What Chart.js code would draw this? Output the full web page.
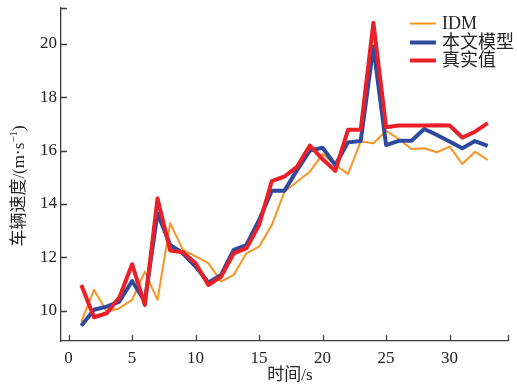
<!DOCTYPE html>
<html>
<head>
<meta charset="utf-8">
<script src="https://cdn.jsdelivr.net/npm/chart.js@4.4.1/dist/chart.umd.min.js"></script>
<style>
  html, body { margin: 0; padding: 0; background: #fff; }
  #wrap { width: 517px; height: 392px; }
</style>
</head>
<body>
<div id="wrap"><canvas id="myChart" width="517" height="392"></canvas></div>
<script>
// time (s)
const times = [1, 2, 3, 4, 5, 6, 7, 8, 9, 10, 11, 12, 13, 14, 15, 16, 17,
  18, 19, 20, 21, 22, 23, 24, 25, 26, 27, 28, 29, 30, 31, 32, 33];
// IDM
const idm = [9.59, 10.78, 9.96, 10.09, 10.40, 11.46, 10.40, 13.28, 12.28, 12.03, 11.78,
  11.09, 11.34, 12.15, 12.40, 13.21, 14.46, 14.84, 15.21, 15.88, 15.46, 15.13,
  16.34, 16.28, 16.74, 16.43, 16.06, 16.09, 15.94, 16.15, 15.50, 15.96, 15.65];
// 本文模型
const model = [9.43, 10.03, 10.15, 10.34, 11.11, 10.34, 13.65, 12.46, 12.15, 11.65, 11.05,
  11.34, 12.28, 12.46, 13.40, 14.50, 14.50, 15.28, 16.00, 16.11, 15.46, 16.31,
  16.36, 19.90, 16.21, 16.37, 16.37, 16.81, 16.59, 16.34, 16.09, 16.36, 16.18];
// 真实值
const real = [10.96, 9.75, 9.90, 10.50, 11.74, 10.21, 14.21, 12.25, 12.19, 11.78, 10.96,
  11.27, 12.15, 12.34, 13.21, 14.86, 15.03, 15.40, 16.19, 15.68, 15.24, 16.78,
  16.78, 20.80, 16.88, 16.94, 16.94, 16.94, 16.95, 16.94, 16.49, 16.71, 17.03];

const xTicks = [0, 5, 10, 15, 20, 25, 30];
const yTicks = [10, 12, 14, 16, 18, 20];
const seriesNames = ['IDM', '本文模型', '真实值'];

const serif = "'Liberation Serif', 'Noto Sans CJK SC', serif";
const axisColor = '#3c3c3c';

function pts(arr) {
  return times.map(function (t, i) { return { x: t, y: arr[i] }; });
}

// inward ticks, legend and axis titles
const decor = {
  id: 'decor',
  afterDraw(chart) {
    const ctx = chart.ctx;
    const xs = chart.scales.x, ys = chart.scales.y;
    const a = chart.chartArea;
    ctx.save();
    ctx.strokeStyle = axisColor;
    ctx.lineWidth = 1.3;
    ctx.beginPath();
    xTicks.concat([xs.max]).forEach(function (v) {
      const px = Math.round(xs.getPixelForValue(v)) + 0.5;
      ctx.moveTo(px, a.bottom);
      ctx.lineTo(px, a.bottom - 6);
    });
    yTicks.concat([ys.max]).forEach(function (v) {
      const py = Math.round(ys.getPixelForValue(v)) + 0.5;
      ctx.moveTo(a.left, py);
      ctx.lineTo(a.left + 6, py);
    });
    ctx.stroke();

    // legend
    const ds = chart.data.datasets;
    const rows = [23.5, 42.5, 60.5];
    ctx.font = '18px ' + serif;
    ctx.textBaseline = 'middle';
    ctx.fillStyle = '#222';
    seriesNames.forEach(function (name, i) {
      ctx.strokeStyle = ds[i].borderColor;
      ctx.lineWidth = ds[i].borderWidth;
      ctx.beginPath();
      ctx.moveTo(410, rows[i]);
      ctx.lineTo(436, rows[i]);
      ctx.stroke();
      ctx.fillText(name, 442, rows[i] + 1);
    });

    // x title
    ctx.font = '17px ' + serif;
    ctx.textAlign = 'center';
    ctx.textBaseline = 'middle';
    ctx.fillText('时间/s', 290, 376);

    // y title, rotated
    ctx.translate(20, 186);
    ctx.rotate(-Math.PI / 2);
    const p1 = '车辆速度/(m·s';
    const sup = '−1';
    const p2 = ')';
    ctx.font = '17px ' + serif;
    const w1 = ctx.measureText(p1).width, w3 = ctx.measureText(p2).width;
    ctx.font = '11px ' + serif;
    const w2 = ctx.measureText(sup).width;
    let x0 = -(w1 + w2 + w3) / 2;
    ctx.textAlign = 'left';
    ctx.font = '17px ' + serif;
    ctx.fillText(p1, x0, 0);
    ctx.font = '11px ' + serif;
    ctx.fillText(sup, x0 + w1, -6);
    ctx.font = '17px ' + serif;
    ctx.fillText(p2, x0 + w1 + w2, 0);
    ctx.restore();
  }
};

const data = {
  datasets: [
    { label: seriesNames[0], data: pts(idm), borderColor: 'rgb(247,148,35)', borderWidth: 2, order: 2 },
    { label: seriesNames[1], data: pts(model), borderColor: 'rgb(46,74,158)', borderWidth: 4, order: 1 },
    { label: seriesNames[2], data: pts(real), borderColor: 'rgb(234,32,40)', borderWidth: 4, order: 0 }
  ]
};

const config = {
  type: 'line',
  data: data,
  options: {
    responsive: false,
    animation: false,
    layout: { padding: { top: 8, right: 9, left: 0, bottom: 0 } },
    elements: {
      point: { radius: 0 },
      line: { tension: 0, fill: false, borderJoinStyle: 'round', borderCapStyle: 'butt' }
    },
    plugins: { legend: { display: false }, tooltip: { enabled: false } },
    scales: {
      x: {
        type: 'linear',
        min: -0.6,
        max: 34.6,
        afterFit: function (s) { s.height = 51; s.paddingLeft = 0; s.paddingRight = 0; },
        grid: { display: false, drawTicks: false },
        border: { display: true, color: axisColor, width: 1.3 },
        ticks: {
          stepSize: 5,
          includeBounds: false,
          padding: 7,
          maxRotation: 0,
          color: '#222',
          font: { family: serif, size: 17 }
        }
      },
      y: {
        min: 8.86,
        max: 21.35,
        afterFit: function (s) { s.width = 61; s.paddingTop = 0; s.paddingBottom = 0; },
        grid: { display: false, drawTicks: false },
        border: { display: true, color: axisColor, width: 1.3 },
        ticks: {
          stepSize: 2,
          includeBounds: false,
          padding: 4,
          color: '#222',
          font: { family: serif, size: 17 }
        }
      }
    }
  },
  plugins: [decor]
};

const myChart = new Chart(document.getElementById('myChart'), config);
</script>
</body>
</html>
